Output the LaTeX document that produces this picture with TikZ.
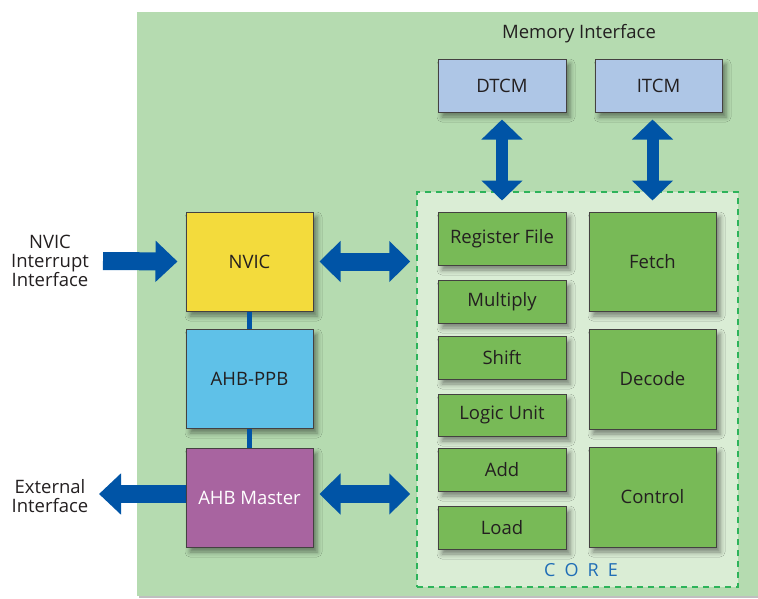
\documentclass[tikz,border=0pt]{standalone}
\usepackage{fontspec}
\setmainfont{Open Sans}
\usetikzlibrary{arrows.meta,shadows.blur}
\definecolor{bggreen}{HTML}{B5DBB0}
\definecolor{coregreen}{HTML}{DAEDD5}
\definecolor{dashgreen}{HTML}{2DB35A}
\definecolor{boxgreen}{HTML}{78BA57}
\definecolor{memblue}{HTML}{AEC6E6}
\definecolor{arrblue}{HTML}{0054A6}
\definecolor{nvicyellow}{HTML}{F3DB3C}
\definecolor{ppbblue}{HTML}{5FC1E8}
\definecolor{ahbpurple}{HTML}{A864A0}
\definecolor{coretext}{HTML}{1F6DB6}
\definecolor{txt}{HTML}{231F20}
\tikzset{
  lbl/.style={font=\fontsize{18.5}{19}\selectfont, text=txt, align=center},
  blk/.style={draw=txt!85, line width=1pt, font=\fontsize{18.5}{19}\selectfont, text=txt,
     inner sep=0pt, align=center,
     blur shadow={shadow xshift=4pt, shadow yshift=-5pt, shadow blur radius=5pt, shadow opacity=45}},
  smallblk/.style={blk, fill=boxgreen, minimum width=128pt, minimum height=43pt},
  bigblk/.style={blk, fill=boxgreen, minimum width=127pt, minimum height=99pt},
  harr/.style={arrblue, line width=18pt, line cap=butt},
  varr/.style={arrblue, line width=12pt, line cap=butt},
  htip/.style={-{Triangle[length=22pt,width=40pt]}},
  hdbl/.style={{Triangle[length=21pt,width=40pt]}-{Triangle[length=21pt,width=40pt]}},
  vdbl/.style={{Triangle[length=20pt,width=40pt]}-{Triangle[length=20pt,width=40pt]}},
  link/.style={arrblue, line width=4.5pt}
}
\begin{document}
\begin{tikzpicture}[x=1pt,y=-1pt]
\useasboundingbox (0,0) rectangle (758,598);
\fill[black!25] (139,14) rectangle (758,598);
\fill[bggreen] (137,12) rectangle (758,596);
\node[lbl] (memtext) at (579,34) {Memory Interface};
\node[blk, fill=memblue, minimum width=128pt, minimum height=53pt] (dtcm) at (502,85.5) {DTCM};
\node[blk, fill=memblue, minimum width=127pt, minimum height=53pt] (itcm) at (658.5,85.5) {ITCM};
\node[draw=dashgreen, fill=coregreen, line width=1.5pt, dash pattern=on 6pt off 5pt,
      minimum width=321pt, minimum height=395pt, inner sep=0pt] (core) at (577.5,389.5) {};
\node[smallblk, minimum height=53pt] (regfile) at (502,238.5) {Register File};
\node[smallblk] (multiply) at (502,301.5) {Multiply};
\node[smallblk] (shift) at (502,357.5) {Shift};
\node[smallblk, minimum height=42pt] (logic) at (502,415) {Logic Unit};
\node[smallblk] (add) at (502,469.5) {Add};
\node[smallblk] (load) at (502,527.5) {Load};
\node[bigblk] (fetch) at (652.5,261.5) {Fetch};
\node[bigblk, minimum height=100pt] (decode) at (652.5,379) {Decode};
\node[bigblk, minimum height=100pt] (control) at (652.5,497) {Control};
\node[font=\fontsize{18}{19}\selectfont, text=coretext] (coretxt) at (581,570) {C\hspace{0.5em}O\hspace{0.5em}R\hspace{0.5em}E};
% left blocks
\node[blk, fill=nvicyellow, minimum width=127pt, minimum height=99pt] (nvic) at (249.5,261.5) {NVIC};
\node[blk, fill=ppbblue, minimum width=127pt, minimum height=99pt] (ppb) at (249.5,378.5) {AHB-PPB};
\node[lbl] (nvictext) at (50,261) {NVIC\\Interrupt\\Interface};
\node[lbl] (exttext) at (50,496.5) {External\\Interface};
\coordinate (nvicin) at (103,261);
\coordinate (extend) at (99,494);
\coordinate (ahbmc) at (249.5,494);
\draw[harr, htip] (nvicin) -- ([xshift=-8pt]nvic.west);
\draw[harr, htip] (ahbmc) -- (extend);
\node[blk, fill=ahbpurple, minimum width=127pt, minimum height=99pt, text=white] (ahbm) at (249.5,497.5) {AHB Master};
\draw[link] (nvic.south) -- (ppb.north);
\draw[link] (ppb.south) -- (ahbm.north);
% double arrows
\draw[harr, hdbl] ([xshift=6pt]nvic.east) -- ([xshift=-6pt]core.west |- nvic.east);
\coordinate (am) at ([xshift=6pt]ahbm.east |- ahbmc);
\coordinate (amend) at ([xshift=-6pt]core.west |- ahbmc);
\draw[harr, hdbl] (am) -- (amend);
\draw[varr, vdbl] ([yshift=-7pt]dtcm.south) -- ([yshift=11pt]regfile.north);
\draw[varr, vdbl] ([yshift=-7pt]itcm.south -| fetch.north) -- ([yshift=11pt]fetch.north);
\end{tikzpicture}
\end{document}
